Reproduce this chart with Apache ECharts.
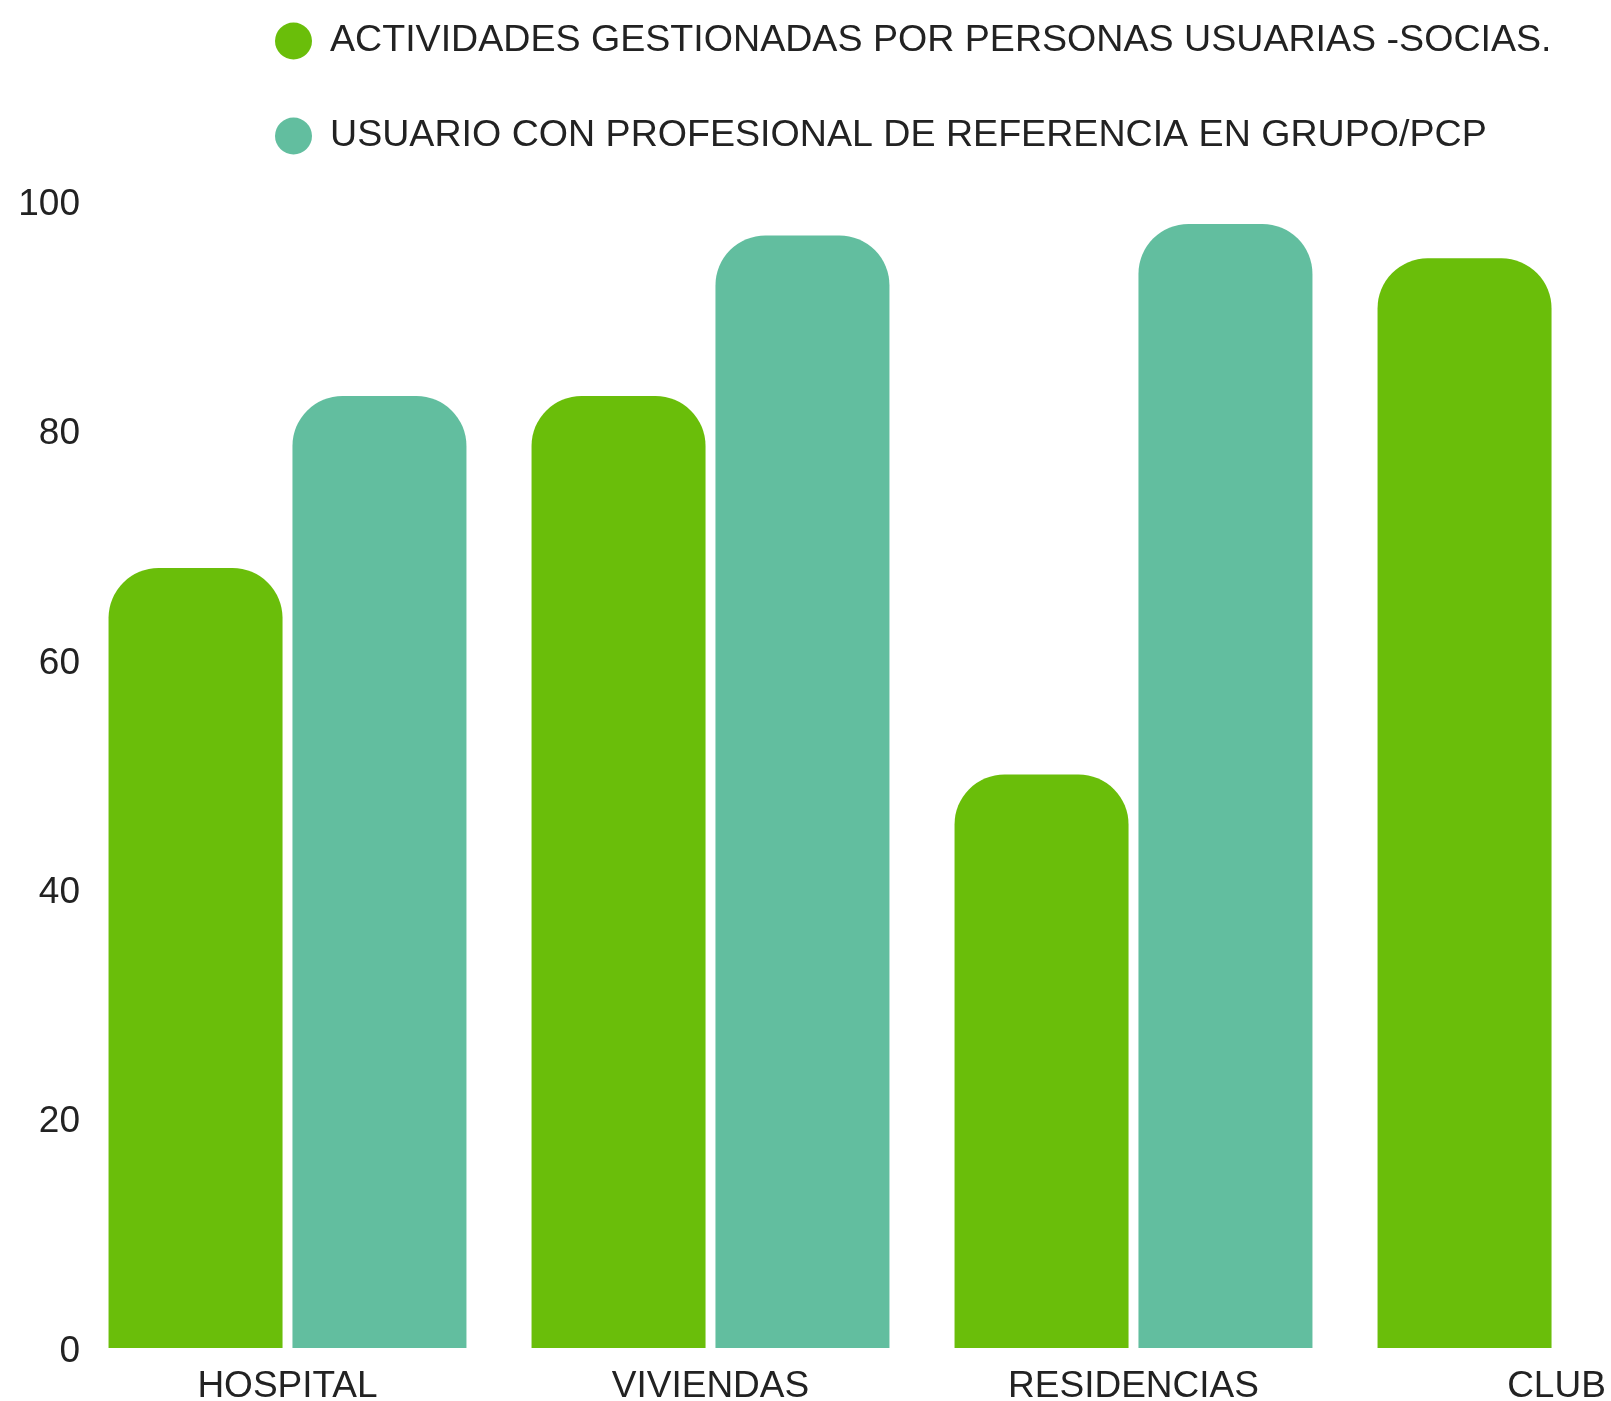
<!DOCTYPE html>
<html>
<head>
<meta charset="utf-8">
<script src="https://cdn.jsdelivr.net/npm/echarts@6/dist/echarts.min.js"></script>
<style>
    html, body { margin: 0; padding: 0; background: #ffffff; }
    #chart { width: 1611px; height: 1401px; }
</style>
</head>
<body>
<div id="chart"></div>
<script>
const categories = ["HOSPITAL", "VIVIENDAS", "RESIDENCIAS", "CLUB"];
const seriesNames = [
    "ACTIVIDADES GESTIONADAS POR PERSONAS USUARIAS -SOCIAS.",
    "USUARIO CON PROFESIONAL DE REFERENCIA EN GRUPO/PCP"
];
const activityValues = [68, 83, 50, 95];
const professionalValues = [83, 97, 98, null];
const yTicks = [0, 20, 40, 60, 80, 100];

const fontFamily = "'Liberation Sans', Arial, sans-serif";
const textColor = "#222222";

const chart = echarts.init(document.getElementById("chart"), null, { renderer: "canvas" });

// the last category runs past the right edge, as in the original picture
chart.setOption({
    backgroundColor: "#ffffff",
    animation: false,
    legend: {
        orient: "vertical",
        left: 270,
        top: 17,
        icon: "circle",
        itemWidth: 37,
        itemHeight: 37,
        itemGap: 57,
        textStyle: {
            color: textColor,
            fontSize: 37.6,
            fontFamily,
            padding: [0, 0, 0, 13]
        },
        data: seriesNames
    },
    grid: {
        left: 76,
        top: 201,
        bottom: 53,
        width: 1692,
        containLabel: false,
        outerBoundsMode: "none"
    },
    xAxis: {
        type: "category",
        data: categories,
        axisLine: { show: false },
        axisTick: { show: false },
        axisLabel: { color: textColor, fontSize: 37, fontFamily, margin: 20 }
    },
    yAxis: {
        type: "value",
        min: yTicks[0],
        max: yTicks[yTicks.length - 1],
        interval: yTicks[1] - yTicks[0],
        axisLine: { show: false },
        axisTick: { show: false },
        splitLine: { show: false },
        axisLabel: {
            margin: -4,
            formatter: "{v|{value}}",
            rich: {
                v: { color: textColor, fontSize: 37, fontFamily, padding: [7, 0, 0, 0] }
            }
        }
    },
    series: [
        {
            name: seriesNames[0],
            type: "bar",
            data: activityValues,
            barWidth: 174,
            barGap: "5.7%",
            itemStyle: { color: "#6abe0a", borderRadius: [50, 50, 0, 0] }
        },
        {
            name: seriesNames[1],
            type: "bar",
            data: professionalValues,
            barWidth: 174,
            barGap: "5.7%",
            itemStyle: { color: "#62be9f", borderRadius: [50, 50, 0, 0] }
        }
    ]
});
</script>
</body>
</html>
